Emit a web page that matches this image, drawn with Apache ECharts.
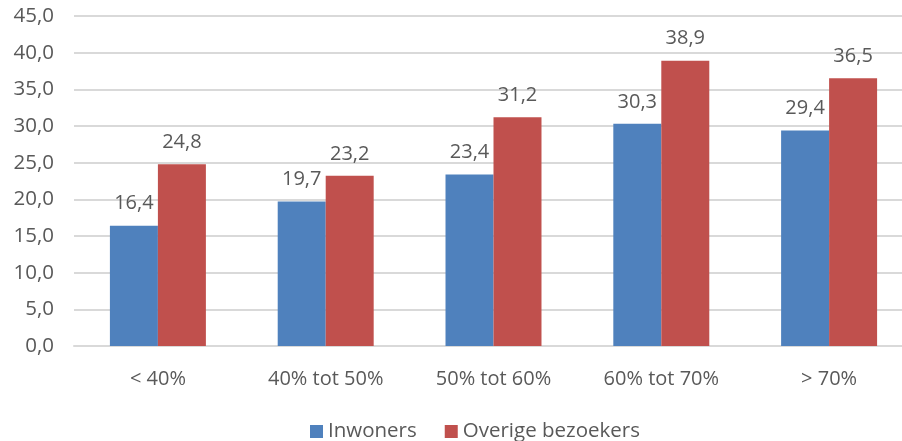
<!DOCTYPE html>
<html>
<head>
<meta charset="utf-8">
<script src="https://cdn.jsdelivr.net/npm/echarts@6/dist/echarts.min.js"></script>
<style>
  html, body { margin: 0; padding: 0; background: #ffffff; }
  #chart { width: 902px; height: 441px; }
</style>
</head>
<body>
<div id="chart"></div>
<script>
// Categories and the two series shown per category
const categories = ['< 40%', '40% tot 50%', '50% tot 60%', '60% tot 70%', '> 70%'];
const inwoners = [16.4, 19.7, 23.4, 30.3, 29.4];
const overigeBezoekers = [24.8, 23.2, 31.2, 38.9, 36.5];
const seriesNames = ['Inwoners', 'Overige bezoekers'];

const FONT = '"Open Sans", "Noto Sans", sans-serif';
const TEXT = '#595959';

// Dutch decimal notation: one decimal, comma separator
const fmt = v => Number(v).toFixed(1).replace('.', ',');

const chart = echarts.init(document.getElementById('chart'), null, { renderer: 'canvas' });

const barLabel = {
  show: true,
  position: 'top',
  distance: 12,
  color: TEXT,
  fontFamily: FONT,
  fontSize: 20,
  formatter: p => fmt(p.value)
};

chart.setOption({
  backgroundColor: '#ffffff',
  animation: false,
  // the plot runs slightly past the right edge of the canvas
  grid: { left: 74, top: 16, right: -11, bottom: 95, containLabel: false, outerBoundsMode: 'none' },
  legend: {
    top: 416,
    left: 305,
    itemWidth: 13,
    itemHeight: 13,
    itemGap: 28,
    icon: 'rect',
    textStyle: { color: TEXT, fontFamily: FONT, fontSize: 20.5 },
    data: seriesNames
  },
  xAxis: {
    type: 'category',
    data: categories,
    axisTick: { show: false },
    axisLine: { lineStyle: { color: '#d9d9d9', width: 2 } },
    axisLabel: { color: TEXT, fontFamily: FONT, fontSize: 20, margin: 23 }
  },
  yAxis: {
    type: 'value',
    min: 0,
    max: 45,
    interval: 5,
    axisLine: { show: false },
    axisTick: { show: false },
    splitLine: { lineStyle: { color: '#d9d9d9', width: 2 } },
    axisLabel: { color: TEXT, fontFamily: FONT, fontSize: 20.5, margin: 20, formatter: fmt }
  },
  series: [
    {
      name: seriesNames[0],
      type: 'bar',
      data: inwoners,
      barGap: '0%',
      barCategoryGap: '42.8%',
      itemStyle: { color: '#4F81BD' },
      label: barLabel
    },
    {
      name: seriesNames[1],
      type: 'bar',
      data: overigeBezoekers,
      itemStyle: { color: '#C0504D' },
      label: barLabel
    }
  ]
});
</script>
</body>
</html>
